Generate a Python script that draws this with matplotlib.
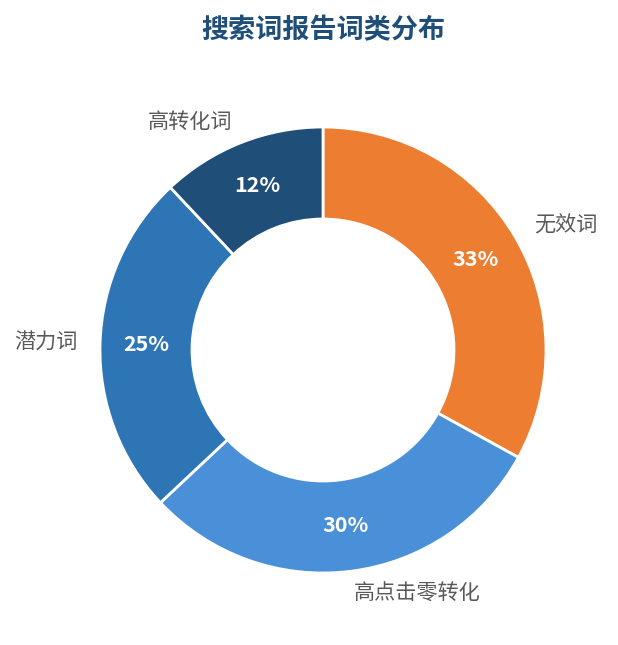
import matplotlib
matplotlib.use("Agg")
import matplotlib.pyplot as plt
import numpy as np

plt.rcParams["font.family"] = ["Noto Sans CJK SC", "DejaVu Sans"]

# data
categories = ["无效词", "高点击零转化", "潜力词", "高转化词"]
shares = [33, 30, 25, 12]
colors = ["#ED7D31", "#4A90D9", "#2E75B6", "#1F4E79"]
title = "搜索词报告词类分布"

W, H = 618, 645
fig = plt.figure(figsize=(W / 100, H / 100), dpi=100)
ax = fig.add_axes([0, 0, 1, 1])

outer = 223
inner = 131
cx, cy = 323, -350
wedges, texts, autotexts = ax.pie(
    shares,
    labels=categories,
    colors=colors,
    startangle=90,
    counterclock=False,
    center=(cx, cy),
    radius=outer,
    labeldistance=1.10,
    pctdistance=(outer + inner) / 2 / outer,
    autopct=lambda p: f"{p:.0f}%",
    wedgeprops=dict(width=outer - inner, edgecolor="white", linewidth=2),
    textprops=dict(fontsize=15.2, color="#595959"),
    frame=True,
)
# pie picks the alignment from absolute x; redo it relative to the centre
for w, t in zip(wedges, texts):
    mid = np.deg2rad((w.theta1 + w.theta2) / 2)
    t.set_ha("left" if np.cos(mid) >= 0 else "right")
for t in autotexts:
    t.set_color("white")
    t.set_fontweight("bold")
    t.set_fontsize(15.5)

ax.set_xlim(0, W)
ax.set_ylim(-H, 0)
ax.set_aspect("equal")
ax.axis("off")

ax.text(323, -30, title, ha="center", va="center", fontsize=19.5, fontweight="bold", color="#1F4E79")

fig.savefig("out.png", dpi=100)
